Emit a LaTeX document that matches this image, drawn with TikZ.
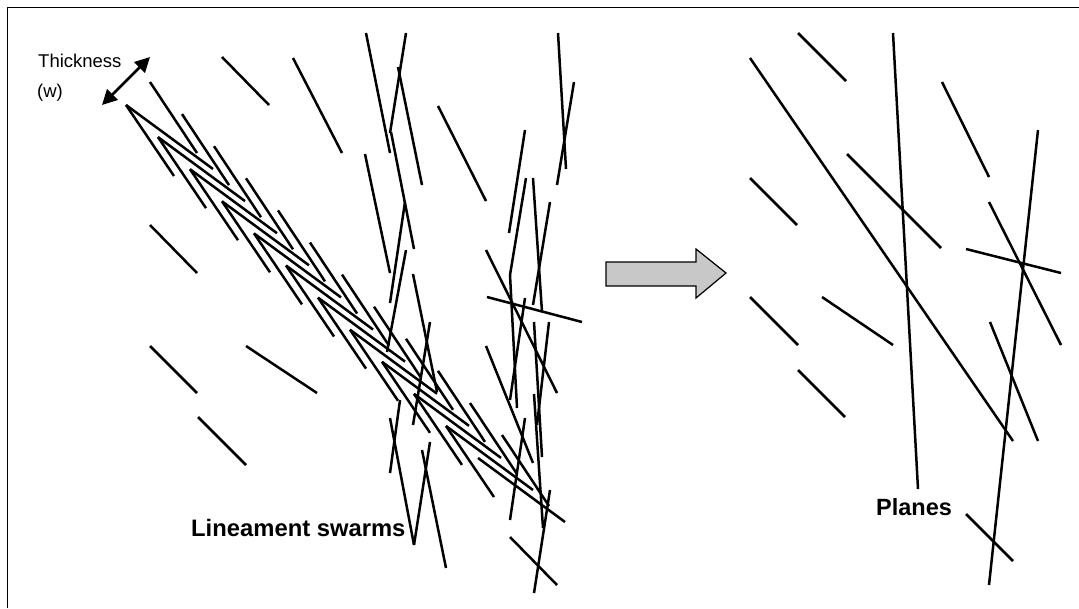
\documentclass[tikz,border=0pt]{standalone}
\usepackage{fontspec}
\setmainfont{Liberation Sans}
\usetikzlibrary{arrows.meta}
\definecolor{arrgray}{HTML}{C8C8C8}
\begin{document}
\begin{tikzpicture}[x=1pt,y=-1pt,
  ln/.style={line width=2.5pt},
  lbl/.style={inner sep=0pt, anchor=base west}]
\useasboundingbox (0,0) rectangle (1079,608);
\draw[line width=1pt] (7,608) -- (7,7) -- (1079,7);
% texts
\node[lbl, font=\fontsize{18.5}{20}\selectfont] (thick) at (38,67.5) {Thickness};
\node[lbl, font=\fontsize{18.5}{20}\selectfont] (wlab) at (37,97.5) {(w)};
\node[lbl, font=\bfseries\fontsize{23.8}{26}\selectfont] (swarm) at (191,536) {Lineament swarms};
\node[lbl, font=\bfseries\fontsize{23.5}{26}\selectfont] (planes) at (876,515) {Planes};
% thickness arrow
\coordinate (ta) at (102,105);
\coordinate (tb) at (150,57);
\draw[line width=2.5pt, {Triangle[length=15pt,width=15pt]}-{Triangle[length=15pt,width=15pt]}] (ta) -- (tb);
% swarm units
\foreach \k in {0,...,10}{
  \coordinate (v\k) at ({126+32*\k},{105+32.1*\k});
  \draw[ln] (v\k) -- ++(87,64);
  \draw[ln] (v\k) -- ++(48,71);
  \draw[ln] ([shift={(24,-23)}]v\k) -- ++(47,71);
}
\coordinate (v11) at (478,458);
\draw[ln] (v11) -- ++(87,64);
\draw[ln] ([shift={(24,-23)}]v11) -- ++(47,71);
% isolated left lines
\foreach \a/\b/\c/\d in {222/57/269/105, 293/58/342/153, 150/225/197/273,
  150/346/197/393, 246/346/317/393, 198/417/246/465}
  \draw[ln] (\a,\b) -- (\c,\d);
% middle lines
\foreach \a/\b/\c/\d in {366/33/390/153, 406/33/390/133, 398/67/422/185,
  391/132/414/249, 365/154/390/273, 405/202/390/303, 406/250/387/352,
  413/274/437/392, 430/322/413/425, 390/418/414/545, 400/400/390/473,
  430/442/414/545, 422/450/446/568,
  438/106/486/201, 525/130/509/233, 558/33/566/169, 574/82/557/185,
  526/178/510/275, 510/275/517/408, 533/178/542/312, 550/202/533/305,
  486/250/557/393, 487/297/582/322, 525/298/510/400, 534/322/542/457,
  549/322/537/425, 534/394/543/528, 486/346/533/463, 525/418/510/520,
  550/490/534/593, 510/537/557/585}
  \draw[ln] (\a,\b) -- (\c,\d);
% big arrow
\draw[line width=1.2pt, fill=arrgray, line join=miter]
  (606,262) -- (696,262) -- (696,249) -- (726,273) -- (696,298) -- (696,286) -- (606,286) -- cycle;
% right side
\foreach \a/\b/\c/\d in {750/58/1013/441, 798/33/846/81, 893/33/918/489,
  942/82/989/177, 1038/130/989/585, 847/154/941/248, 750/178/797/225,
  989/202/1061/345, 966/249/1061/273, 750/297/798/345, 822/297/893/345,
  798/370/845/417, 990/322/1038/441, 966/514/1013/561}
  \draw[ln] (\a,\b) -- (\c,\d);
\end{tikzpicture}
\end{document}
